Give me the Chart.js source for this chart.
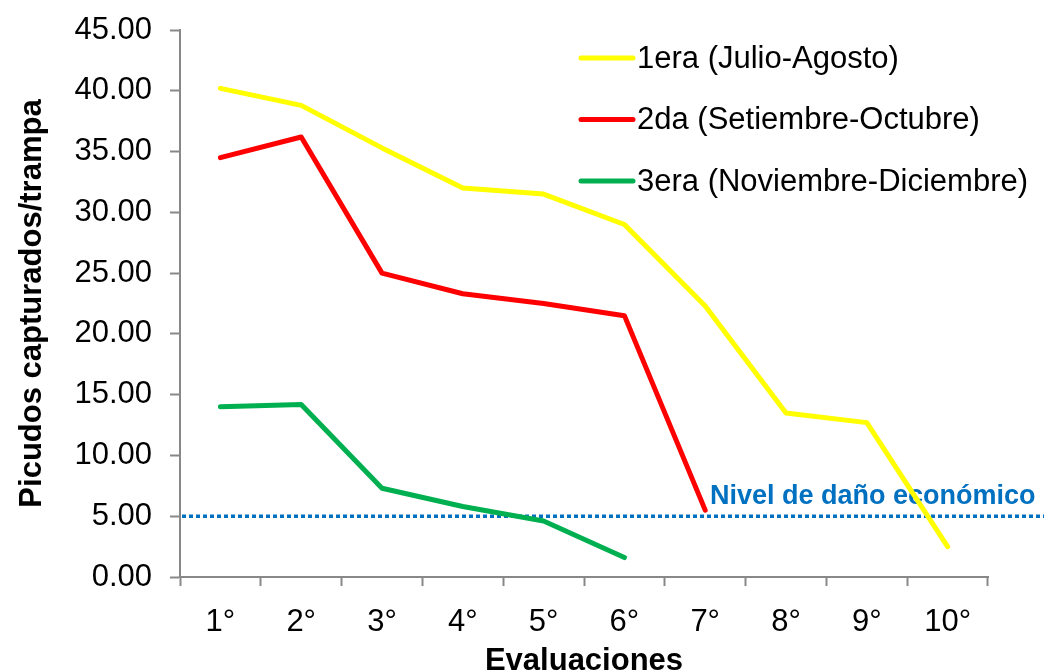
<!DOCTYPE html>
<html>
<head>
<meta charset="utf-8">
<script src="https://cdn.jsdelivr.net/npm/chart.js@4"></script>
<style>
  html, body { margin: 0; padding: 0; background: #fff; }
  #wrap { width: 1044px; height: 671px; }
</style>
</head>
<body>
<div id="wrap"><canvas id="chart" width="1044" height="671"></canvas></div>
<script>
'use strict';
// categories and values
var evaluaciones = ['1°', '2°', '3°', '4°', '5°', '6°', '7°', '8°', '9°', '10°'];
var julioAgosto = [40.2, 38.8, 35.3, 32.0, 31.5, 29.0, 22.3, 13.5, 12.7, 2.5];
var setiembreOctubre = [34.5, 36.2, 25.0, 23.3, 22.5, 21.5, 5.5, null, null, null];
var noviembreDiciembre = [14.0, 14.2, 7.3, 5.8, 4.6, 1.6, null, null, null, null];
var serieLabels = ['1era (Julio-Agosto)', '2da (Setiembre-Octubre)', '3era (Noviembre-Diciembre)'];
var serieColors = ['#FFFF00', '#FF0000', '#00B050'];
var nivelDano = 5;
var nivelLabel = 'Nivel de daño económico';

var FONT = '"Liberation Sans", Arial, sans-serif';

// dotted threshold line, drawn under the series
var thresholdPlugin = {
  id: 'threshold',
  beforeDatasetsDraw: function(chart) {
    var ctx = chart.ctx;
    var y = chart.scales.y.getPixelForValue(nivelDano);
    ctx.save();
    ctx.strokeStyle = '#0070C0';
    ctx.lineWidth = 3.5;
    ctx.setLineDash([4, 3]);
    ctx.beginPath();
    ctx.moveTo(chart.chartArea.left + 2, y);
    ctx.lineTo(chart.width, y);
    ctx.stroke();
    ctx.setLineDash([]);
    ctx.fillStyle = '#0070C0';
    ctx.font = 'bold 27px ' + FONT;
    ctx.textAlign = 'left';
    ctx.textBaseline = 'alphabetic';
    ctx.fillText(nivelLabel, 710, y - 12);
    ctx.restore();
  }
};

// legend inside the plot, top right
var legendPlugin = {
  id: 'sideLegend',
  afterDraw: function(chart) {
    var ctx = chart.ctx;
    ctx.save();
    chart.data.datasets.forEach(function(ds, i) {
      var y = 58 + i * 61.5;
      ctx.strokeStyle = ds.borderColor;
      ctx.lineWidth = 5;
      ctx.lineCap = 'round';
      ctx.beginPath();
      ctx.moveTo(581, y);
      ctx.lineTo(633, y);
      ctx.stroke();
      ctx.fillStyle = '#000';
      ctx.font = '31px ' + FONT;
      ctx.textAlign = 'left';
      ctx.textBaseline = 'middle';
      ctx.fillText(ds.label, 637, y + 1);
    });
    ctx.restore();
  }
};

function makeSet(label, data, color) {
  return {
    label: label,
    data: data,
    borderColor: color,
    backgroundColor: color,
    borderWidth: 5,
    borderCapStyle: 'round',
    borderJoinStyle: 'round',
    pointRadius: 0,
    tension: 0,
    fill: false
  };
}

var ctx = document.getElementById('chart').getContext('2d');
var chart = new Chart(ctx, {
  type: 'line',
  data: {
    labels: evaluaciones,
    datasets: [
      makeSet(serieLabels[0], julioAgosto, serieColors[0]),
      makeSet(serieLabels[1], setiembreOctubre, serieColors[1]),
      makeSet(serieLabels[2], noviembreDiciembre, serieColors[2])
    ]
  },
  options: {
    responsive: false,
    animation: false,
    layout: { padding: { top: 30, right: 56, bottom: 0, left: 0 } },
    plugins: {
      legend: { display: false },
      tooltip: { enabled: false }
    },
    scales: {
      x: {
        offset: true,
        grid: { offset: true, drawOnChartArea: false, tickLength: 9, tickColor: '#888', tickWidth: 2 },
        border: { color: '#888', width: 2 },
        ticks: { color: '#000', font: { family: FONT, size: 31 }, padding: 18, maxRotation: 0 },
        title: { display: true, text: 'Evaluaciones', color: '#000', font: { family: FONT, size: 31, weight: 'bold' }, padding: { top: 0, bottom: -9 } },
        afterFit: function(scale) { scale.height = 94; scale.paddingLeft = 0; scale.paddingRight = 0; }
      },
      y: {
        min: 0,
        max: 45,
        ticks: {
          stepSize: 5,
          color: '#000',
          font: { family: FONT, size: 31 },
          padding: 18,
          callback: function(v) { return Number(v).toFixed(2); }
        },
        grid: { drawOnChartArea: false, tickLength: 10, tickColor: '#888', tickWidth: 2 },
        border: { color: '#888', width: 2 },
        title: { display: true, text: 'Picudos capturados/trampa', color: '#000', font: { family: FONT, size: 31, weight: 'bold' }, padding: { top: 14, bottom: 0 } },
        afterFit: function(scale) { scale.width = 180; scale.paddingTop = 0; scale.paddingBottom = 0; }
      }
    }
  },
  plugins: [thresholdPlugin, legendPlugin]
});
</script>
</body>
</html>
